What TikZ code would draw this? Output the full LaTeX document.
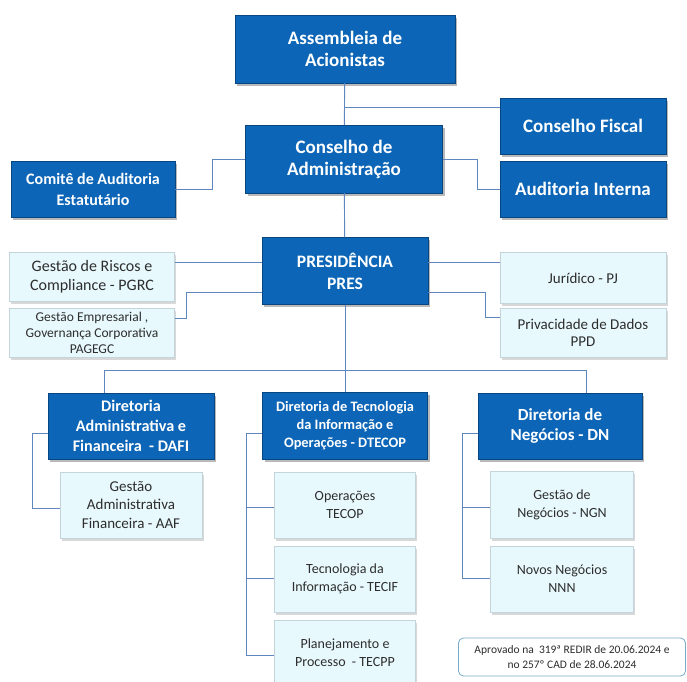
\documentclass[tikz,border=0pt]{standalone}
\usepackage{fontspec}
\setmainfont{Carlito}
\usetikzlibrary{positioning}
\usetikzlibrary{shadows}
\definecolor{unitblue}{RGB}{12,101,182}
\definecolor{unitedge}{RGB}{8,70,130}
\definecolor{deptfill}{RGB}{232,249,253}
\definecolor{deptedge}{RGB}{196,212,220}
\definecolor{depttext}{RGB}{45,45,45}
\definecolor{linkblue}{RGB}{96,134,192}
\definecolor{noteedge}{RGB}{120,170,200}

\begin{document}
\begin{tikzpicture}
  [
    x=1pt, y=-1pt,
    unit/.style={draw=unitedge, fill=unitblue, text=white, align=center,
      inner sep=0pt, drop shadow={shadow xshift=2pt, shadow yshift=-2.5pt,
      fill=black!55}},
    dept/.style={draw=deptedge, fill=deptfill, text=depttext, align=center,
      inner sep=0pt, drop shadow={shadow xshift=1.5pt, shadow yshift=-2.5pt,
      fill=black!30}},
    link/.style={draw=linkblue, line width=0.9pt}
  ]
  \useasboundingbox (0,0) rectangle (687,681);

  % top level
  \node (asm) at (345,49) [unit, minimum width=220pt, minimum height=68pt,
    font=\bfseries\fontsize{19}{22}\selectfont] {Assembleia de\\Acionistas};
  \node (cad) at (344,159) [unit, minimum width=197pt, minimum height=68pt,
    font=\bfseries\fontsize{19}{22}\selectfont] {Conselho de\\Administração};
  \node (cf) at (583,126) [unit, minimum width=166pt, minimum height=56pt,
    font=\bfseries\fontsize{19}{22}\selectfont] {Conselho Fiscal};
  \node (ai) at (583,189) [unit, minimum width=166pt, minimum height=56pt,
    font=\bfseries\fontsize{19}{22}\selectfont] {Auditoria Interna};
  \node (cat) at (93,189) [unit, minimum width=164pt, minimum height=56pt,
    font=\bfseries\fontsize{16}{21}\selectfont] {Comitê de Auditoria\\Estatutário};

  % presidencia
  \node (pres) at (345,271) [unit, minimum width=166pt, minimum height=67pt,
    font=\bfseries\fontsize{17.5}{22}\selectfont] {PRESIDÊNCIA\\PRES};
  \node (grc) at (92,277) [dept, minimum width=165pt, minimum height=49pt,
    font=\fontsize{16}{19}\selectfont] {Gestão de Riscos e\\Compliance - PGRC};
  \node (gec) at (92,333) [dept, minimum width=165pt, minimum height=49pt,
    font=\fontsize{13.5}{16}\selectfont] {Gestão Empresarial ,\\Governança Corporativa\\PAGEGC};
  \node (pj) at (583,278) [dept, minimum width=166pt, minimum height=51pt,
    font=\fontsize{15}{18}\selectfont] {Jurídico - PJ};
  \node (ppd) at (583,333) [dept, minimum width=166pt, minimum height=49pt,
    font=\fontsize{15}{17}\selectfont] {Privacidade de Dados\\PPD};

  % diretorias
  \node (dafi) at (131,426) [unit, minimum width=166pt, minimum height=66pt,
    font=\bfseries\fontsize{16.2}{20}\selectfont] {Diretoria\\Administrativa e\\Financeira \ - DAFI};
  \node (dtecop) at (345,426) [unit, minimum width=165pt, minimum height=67pt,
    font=\bfseries\fontsize{14.4}{18}\selectfont] {Diretoria de Tecnologia\\da Informação e\\Operações - DTECOP};
  \node (dn) at (560,426) [unit, minimum width=164pt, minimum height=66pt,
    font=\bfseries\fontsize{17}{20}\selectfont] {Diretoria de\\Negócios - DN};

  \node (aaf) at (131,505) [dept, minimum width=142pt, minimum height=66pt,
    font=\fontsize{15}{18.5}\selectfont] {Gestão\\Administrativa\\Financeira - AAF};
  \node (tecop) at (345,505) [dept, minimum width=141pt, minimum height=66pt,
    font=\fontsize{14}{18}\selectfont] {Operações\\TECOP};
  \node (tecif) at (345,579) [dept, minimum width=141pt, minimum height=66pt,
    font=\fontsize{14}{18}\selectfont] {Tecnologia da\\Informação - TECIF};
  \node (tecpp) at (345,653) [dept, minimum width=141pt, minimum height=66pt,
    font=\fontsize{14}{18}\selectfont] {Planejamento e\\Processo \ - TECPP};
  \node (ngn) at (562,505) [dept, minimum width=143pt, minimum height=67pt,
    font=\fontsize{14}{18.5}\selectfont] {Gestão de\\Negócios - NGN};
  \node (nnn) at (562,579) [dept, minimum width=143pt, minimum height=66pt,
    font=\fontsize{14}{18}\selectfont] {Novos Negócios\\NNN};

  \node (note) at (572,657) [draw=noteedge, fill=white, rounded corners=5pt,
    line width=0.8pt, minimum width=227pt, minimum height=38pt, align=center,
    text=depttext, font=\fontsize{11.5}{15}\selectfont]
    {Aprovado na \ 319ª REDIR de 20.06.2024 e\\no 257º CAD de 28.06.2024};

  % connectors
  \coordinate (cfjoin) at (asm.south |- 0,107);
  \draw [link] (asm) -- (cad);
  \draw [link] (cfjoin) -- (cfjoin -| cf.west);
  \draw [link] (cad.east) -- ++(35,0) |- (ai.west);
  \draw [link] (cad.west) -- ++(-33,0) |- (cat.east);
  \draw [link] (cad) -- (pres);

  \draw [link] (pres.west |- 0,262) -- (grc.east |- 0,262);
  \draw [link] (pres.west |- 0,292) -- ++(-75,0) |- (gec.east |- 0,318);
  \draw [link] (pres.east |- 0,262) -- (pj.west |- 0,262);
  \draw [link] (pres.east |- 0,292) -- ++(57,0) |- (ppd.west |- 0,317);

  \coordinate (busl) at (104,370);
  \coordinate (busr) at (586,370);
  \draw [link] (pres.south) -- (dtecop.north);
  \draw [link] (busl) -- (busr);
  \draw [link] (busl) -- (busl |- dafi.north);
  \draw [link] (busr) -- (busr |- dn.north);

  \coordinate (dafibar) at (32,508);
  \draw [link] (dafi.west |- 0,433) -| (dafibar) -- (aaf.west |- dafibar);

  \coordinate (dtbar1) at (246,507);
  \coordinate (dtbar2) at (246,578);
  \coordinate (dtbar3) at (246,655);
  \draw [link] (dtecop.west |- 0,433) -| (dtbar3) -- (tecpp.west |- dtbar3);
  \draw [link] (dtbar1) -- (tecop.west |- dtbar1);
  \draw [link] (dtbar2) -- (tecif.west |- dtbar2);

  \coordinate (dnbar1) at (462,507);
  \coordinate (dnbar2) at (462,578);
  \draw [link] (dn.west |- 0,433) -| (dnbar2) -- (nnn.west |- dnbar2);
  \draw [link] (dnbar1) -- (ngn.west |- dnbar1);
\end{tikzpicture}
\end{document}
